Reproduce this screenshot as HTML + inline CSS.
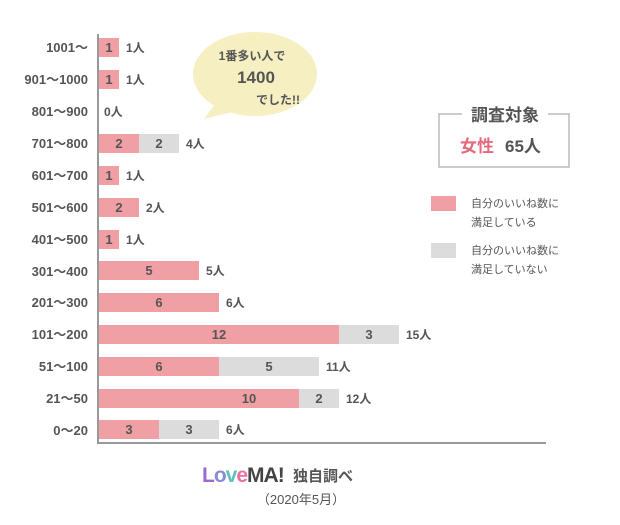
<!DOCTYPE html>
<html><head><meta charset="utf-8"><style>
body{margin:0;background:#fff;}
svg text{font-family:"Liberation Sans","Noto Sans CJK JP",sans-serif;fill:#555;}
</style></head><body>
<svg width="620" height="520" viewBox="0 0 620 520" xmlns="http://www.w3.org/2000/svg">
<g font-size="13" font-weight="bold" text-anchor="end">
<text x="88" y="52">1001〜</text>
<text x="88" y="84">901〜1000</text>
<text x="88" y="116">801〜900</text>
<text x="88" y="148">701〜800</text>
<text x="88" y="180">601〜700</text>
<text x="88" y="212">501〜600</text>
<text x="88" y="244">401〜500</text>
<text x="88" y="276">301〜400</text>
<text x="88" y="307">201〜300</text>
<text x="88" y="339">101〜200</text>
<text x="88" y="371">51〜100</text>
<text x="88" y="403">21〜50</text>
<text x="88" y="435">0〜20</text>
</g>
<g fill="#f0a0a4">
<rect x="99" y="38" width="20" height="19"/>
<rect x="99" y="70" width="20" height="19"/>
<rect x="99" y="134" width="40" height="19"/>
<rect x="99" y="166" width="20" height="19"/>
<rect x="99" y="198" width="40" height="19"/>
<rect x="99" y="230" width="20" height="19"/>
<rect x="99" y="261" width="100" height="19"/>
<rect x="99" y="293" width="120" height="19"/>
<rect x="99" y="325" width="240" height="19"/>
<rect x="99" y="357" width="120" height="19"/>
<rect x="99" y="389" width="200" height="19"/>
<rect x="99" y="420" width="60" height="19"/>
</g>
<g fill="#dcdcdc">
<rect x="139" y="134" width="40" height="19"/>
<rect x="339" y="325" width="60" height="19"/>
<rect x="219" y="357" width="100" height="19"/>
<rect x="299" y="389" width="40" height="19"/>
<rect x="159" y="420" width="60" height="19"/>
</g>
<g font-size="13" font-weight="bold" text-anchor="middle">
<text x="109" y="52">1</text><text x="109" y="84">1</text>
<text x="119" y="148">2</text><text x="159" y="148">2</text>
<text x="109" y="180">1</text><text x="119" y="212">2</text><text x="109" y="244">1</text>
<text x="149" y="275">5</text><text x="159" y="307">6</text>
<text x="219" y="339">12</text><text x="369" y="339">3</text>
<text x="159" y="371">6</text><text x="269" y="371">5</text>
<text x="249" y="403">10</text><text x="319" y="403">2</text>
<text x="129" y="434">3</text><text x="189" y="434">3</text>
</g>
<g font-size="12" font-weight="bold">
<text x="126" y="52">1人</text><text x="126" y="84">1人</text><text x="104" y="116">0人</text>
<text x="186" y="148">4人</text><text x="126" y="180">1人</text><text x="146" y="212">2人</text>
<text x="126" y="244">1人</text><text x="206" y="275">5人</text><text x="226" y="307">6人</text>
<text x="406" y="339">15人</text><text x="326" y="371">11人</text><text x="346" y="403">12人</text>
<text x="226" y="434">6人</text>
</g>
<line x1="98" y1="34" x2="98" y2="444" stroke="#999" stroke-width="2"/>
<line x1="97" y1="443" x2="546" y2="443" stroke="#999" stroke-width="2"/>
<path d="M215,104 L204,119 L232,112 Z" fill="#f6efc2"/>
<ellipse cx="255" cy="74" rx="62" ry="42" fill="#f6efc2"/>
<text x="252" y="60" font-size="12" font-weight="bold" text-anchor="middle">1番多い人で</text>
<text x="256" y="83" font-size="17" font-weight="bold" text-anchor="middle">1400</text>
<text x="300" y="104" font-size="12" font-weight="bold" text-anchor="end">でした!!</text>
<rect x="439" y="114" width="130" height="53" fill="none" stroke="#bbb" stroke-width="1.5"/>
<rect x="462" y="104" width="86" height="20" fill="#fff"/>
<text x="505" y="121" font-size="17" font-weight="bold" text-anchor="middle">調査対象</text>
<text x="460" y="152" font-size="17" font-weight="bold" style="fill:#e56a7c">女性</text>
<text x="505" y="152" font-size="17" font-weight="bold">65人</text>
<rect x="431" y="196" width="25" height="15" fill="#f0a0a4"/>
<rect x="431" y="243" width="25" height="15" fill="#dcdcdc"/>
<g font-size="11">
<text x="471" y="207">自分のいいね数に</text><text x="471" y="226">満足している</text>
<text x="471" y="254">自分のいいね数に</text><text x="471" y="273">満足していない</text>
</g>
<text x="202" y="482" font-size="21" font-weight="bold" letter-spacing="-1"><tspan style="fill:#9b6bd0">L</tspan><tspan style="fill:#8a8ad8">o</tspan><tspan style="fill:#5ec0c0">v</tspan><tspan style="fill:#ea6fa0">e</tspan><tspan style="fill:#444">MA!</tspan></text>
<text x="293" y="481" font-size="15" font-weight="bold">独自調べ</text>
<text x="301" y="504" font-size="13" text-anchor="middle">（2020年5月）</text>
</svg>
</body></html>
